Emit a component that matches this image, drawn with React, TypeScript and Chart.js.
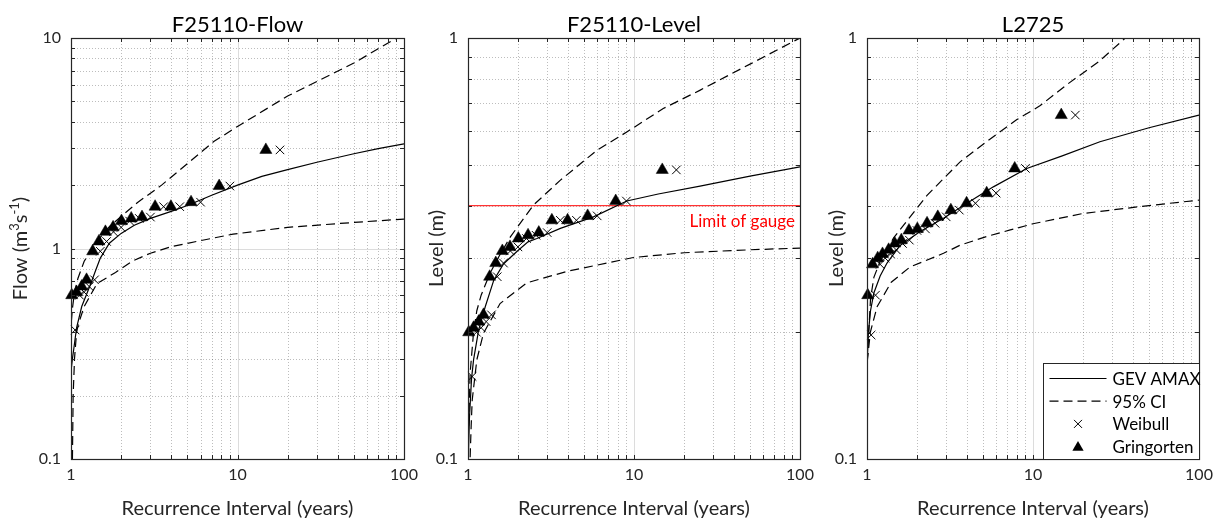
import React, { useEffect, useRef } from "react";
import { Chart, registerables } from "chart.js";

Chart.register(...registerables);

const FONT = "Lato, 'Open Sans', 'DejaVu Sans', sans-serif";
const W = 1219;
const H = 520;
const AXIS_COLOR = "#262626";
const MINOR_GRID = "rgba(38,38,38,0.30)";
const MAJOR_GRID = "rgba(38,38,38,0.16)";
const Y_AXIS_BOX = 60;
const X_AXIS_BOX = 40;

// Recurrence intervals (years) of the ranked annual maxima (rank 1..17)
const weibullRI = [18, 9, 6, 4.5, 3.6, 3, 2.571, 2.25, 2, 1.8, 1.636, 1.5, 1.385, 1.286, 1.2, 1.125, 1.059];
const gringortenRI = [14.8, 7.76, 5.26, 3.98, 3.2, 2.67, 2.3, 2.01, 1.79, 1.61, 1.47, 1.35, 1.24, 1.16, 1.08, 1.01, 0.95];

const xTicks = [1, 10, 100];

// ---- F25110-Flow ----
const flowAmax = [2.94, 1.98, 1.66, 1.58, 1.58, 1.41, 1.39, 1.35, 1.26, 1.2, 1.08, 0.97, 0.71, 0.66, 0.62, 0.6, 0.41];
const flowGevRI = [1.005, 1.02, 1.04, 1.08, 1.16, 1.3, 1.4, 1.5, 1.7, 2, 2.4, 3, 4, 5, 7, 10, 14, 20, 30, 50, 70, 100];
const flowGev = [0.27, 0.3, 0.335, 0.42, 0.53, 0.665, 0.78, 0.9, 1.06, 1.18, 1.29, 1.39, 1.5, 1.6, 1.79, 2.0, 2.2, 2.37, 2.57, 2.82, 2.98, 3.14];
const flowUpperRI = [1.005, 1.02, 1.05, 1.1, 1.2, 1.35, 1.5, 1.7, 2, 2.5, 3.5, 5, 7.2, 10, 20, 50, 100];
const flowUpper = [0.45, 0.52, 0.62, 0.72, 0.87, 1.0, 1.13, 1.27, 1.42, 1.65, 2.0, 2.53, 3.22, 3.8, 5.3, 7.6, 10.5];
const flowLowerRI = [1.02, 1.03, 1.05, 1.08, 1.11, 1.2, 1.43, 1.85, 2.33, 3, 4, 6, 9.4, 20, 50, 100];
const flowLower = [0.1, 0.2, 0.3, 0.4, 0.44, 0.53, 0.68, 0.77, 0.87, 0.95, 1.02, 1.09, 1.17, 1.26, 1.33, 1.38];
const flowYTicks = [0.1, 1, 10];

// ---- F25110-Level ----
const levelAmax = [0.486, 0.41, 0.378, 0.369, 0.369, 0.345, 0.34, 0.334, 0.319, 0.312, 0.292, 0.271, 0.22, 0.212, 0.205, 0.2, 0.157];
const levelGevRI = [1.005, 1.02, 1.05, 1.08, 1.16, 1.27, 1.43, 1.64, 1.97, 2.3, 2.6, 3.6, 5.7, 9.05, 14, 25, 50, 100];
const levelGev = [0.101, 0.125, 0.155, 0.172, 0.203, 0.23, 0.266, 0.291, 0.311, 0.328, 0.334, 0.353, 0.376, 0.41, 0.426, 0.445, 0.47, 0.494];
const levelUpperRI = [1.01, 1.03, 1.08, 1.13, 1.2, 1.35, 1.53, 1.8, 2.48, 3.59, 5.97, 9.05, 15, 24.9, 50, 100];
const levelUpper = [0.12, 0.16, 0.2, 0.225, 0.245, 0.275, 0.302, 0.337, 0.401, 0.459, 0.541, 0.598, 0.68, 0.751, 0.867, 1.0];
const levelLowerRI = [1.03, 1.045, 1.06, 1.13, 1.24, 1.56, 2.26, 3.94, 9.9, 20, 50, 100];
const levelLower = [0.101, 0.12, 0.138, 0.172, 0.199, 0.234, 0.262, 0.279, 0.301, 0.309, 0.314, 0.317];
const levelYTicks = [0.1, 1];
const gaugeLimit = 0.4;
const gaugeLabel = "Limit of gauge";

// ---- L2725 ----
const l2725Amax = [0.656, 0.49, 0.428, 0.405, 0.39, 0.376, 0.363, 0.352, 0.349, 0.331, 0.325, 0.314, 0.307, 0.3, 0.29, 0.245, 0.197];
const l2725GevRI = [1.003, 1.02, 1.05, 1.1, 1.2, 1.32, 1.45, 1.59, 2.09, 2.89, 4, 5.77, 9.17, 15, 25.3, 50, 100];
const l2725Gev = [0.17, 0.2, 0.225, 0.248, 0.272, 0.292, 0.307, 0.322, 0.347, 0.373, 0.405, 0.443, 0.49, 0.525, 0.567, 0.612, 0.656];
const l2725UpperRI = [1.003, 1.05, 1.1, 1.2, 1.446, 2.3, 3.64, 5.5, 8, 11, 16, 25, 36, 50];
const l2725Upper = [0.17, 0.24, 0.27, 0.295, 0.335, 0.423, 0.508, 0.575, 0.64, 0.69, 0.775, 0.88, 1.0, 1.1];
const l2725LowerRI = [1.003, 1.047, 1.15, 1.4, 1.82, 2.89, 3.64, 5.3, 7.3, 10, 20, 50, 100];
const l2725Lower = [0.17, 0.2, 0.23, 0.263, 0.286, 0.308, 0.322, 0.338, 0.35, 0.362, 0.383, 0.4, 0.412];
const l2725YTicks = [0.1, 1];

const legendLabels = ["GEV AMAX", "95% CI", "Weibull", "Gringorten"];
const xTitle = "Recurrence Interval (years)";

type Seg = { t: string; sup?: boolean };
interface Panel {
  title: string;
  yTitle: Seg[];
  yTitleX: number;
  area: { left: number; right: number; top: number; bottom: number };
  yTicks: number[];
  amax: number[];
  gevRI: number[];
  gev: number[];
  upRI: number[];
  up: number[];
  loRI: number[];
  lo: number[];
  gauge?: number;
  legend?: boolean;
}

const panels: Panel[] = [
  {
    title: "F25110-Flow",
    yTitle: [{ t: "Flow (m" }, { t: "3", sup: true }, { t: "s" }, { t: "-1", sup: true }, { t: ")" }],
    yTitleX: 27,
    area: { left: 71, right: 404, top: 38, bottom: 459 },
    yTicks: flowYTicks,
    amax: flowAmax,
    gevRI: flowGevRI,
    gev: flowGev,
    upRI: flowUpperRI,
    up: flowUpper,
    loRI: flowLowerRI,
    lo: flowLower,
  },
  {
    title: "F25110-Level",
    yTitle: [{ t: "Level (m)" }],
    yTitleX: 443,
    area: { left: 468, right: 800, top: 38, bottom: 459 },
    yTicks: levelYTicks,
    amax: levelAmax,
    gevRI: levelGevRI,
    gev: levelGev,
    upRI: levelUpperRI,
    up: levelUpper,
    loRI: levelLowerRI,
    lo: levelLower,
    gauge: gaugeLimit,
  },
  {
    title: "L2725",
    yTitle: [{ t: "Level (m)" }],
    yTitleX: 843,
    area: { left: 867, right: 1199, top: 38, bottom: 459 },
    yTicks: l2725YTicks,
    amax: l2725Amax,
    gevRI: l2725GevRI,
    gev: l2725Gev,
    upRI: l2725UpperRI,
    up: l2725Upper,
    loRI: l2725LowerRI,
    lo: l2725Lower,
    legend: true,
  },
];

function logSteps(min: number, max: number) {
  const minor: number[] = [];
  const major: number[] = [];
  const e0 = Math.floor(Math.log10(min) + 1e-9);
  const e1 = Math.ceil(Math.log10(max) - 1e-9);
  for (let e = e0; e <= e1; e++) {
    const base = Math.pow(10, e);
    for (let k = 1; k <= 9; k++) {
      const v = k * base;
      if (v < min * (1 - 1e-9) || v > max * (1 + 1e-9)) continue;
      (k === 1 ? major : minor).push(v);
    }
  }
  return { minor, major };
}

const crisp = (v: number) => Math.round(v) + 0.5;

function drawTriangle(ctx: CanvasRenderingContext2D, x: number, y: number, r: number) {
  let rad = 0;
  ctx.beginPath();
  ctx.moveTo(x + Math.sin(rad) * r, y - Math.cos(rad) * r);
  rad += (2 * Math.PI) / 3;
  ctx.lineTo(x + Math.sin(rad) * r, y - Math.cos(rad) * r);
  rad += (2 * Math.PI) / 3;
  ctx.lineTo(x + Math.sin(rad) * r, y - Math.cos(rad) * r);
  ctx.closePath();
  ctx.fill();
}

function makeDecor(p: Panel) {
  const yMin = p.yTicks[0];
  const yMax = p.yTicks[p.yTicks.length - 1];
  return {
    id: "decor",
    beforeDatasetsDraw(chart: any) {
      const { ctx, chartArea: a } = chart;
      const xs = chart.scales.x;
      const ys = chart.scales.y;
      const X = logSteps(1, 100);
      const Y = logSteps(yMin, yMax);
      ctx.save();
      ctx.lineWidth = 1;
      ctx.strokeStyle = MINOR_GRID;
      ctx.setLineDash([1, 2]);
      ctx.beginPath();
      for (const v of X.minor) {
        const x = crisp(xs.getPixelForValue(v));
        ctx.moveTo(x, a.top);
        ctx.lineTo(x, a.bottom);
      }
      for (const v of Y.minor) {
        const y = crisp(ys.getPixelForValue(v));
        ctx.moveTo(a.left, y);
        ctx.lineTo(a.right, y);
      }
      ctx.stroke();
      ctx.setLineDash([]);
      ctx.strokeStyle = MAJOR_GRID;
      ctx.beginPath();
      for (const v of X.major) {
        if (v <= 1.0001 || v >= 99.99) continue;
        const x = crisp(xs.getPixelForValue(v));
        ctx.moveTo(x, a.top);
        ctx.lineTo(x, a.bottom);
      }
      for (const v of Y.major) {
        if (v <= yMin * 1.0001 || v >= yMax * 0.9999) continue;
        const y = crisp(ys.getPixelForValue(v));
        ctx.moveTo(a.left, y);
        ctx.lineTo(a.right, y);
      }
      ctx.stroke();
      ctx.restore();
    },
    afterDatasetsDraw(chart: any) {
      const { ctx, chartArea: a } = chart;
      const xs = chart.scales.x;
      const ys = chart.scales.y;
      const X = logSteps(1, 100);
      const Y = logSteps(yMin, yMax);
      ctx.save();
      // gauge label
      if (p.gauge !== undefined) {
        ctx.fillStyle = "#ff0000";
        ctx.font = `17px ${FONT}`;
        ctx.textAlign = "right";
        ctx.textBaseline = "alphabetic";
        ctx.fillText(gaugeLabel, a.right - 5, ys.getPixelForValue(p.gauge) + 21);
      }
      // ticks (inside, all four sides)
      const tl = 4;
      ctx.strokeStyle = AXIS_COLOR;
      ctx.lineWidth = 1;
      ctx.beginPath();
      for (const v of [...X.major, ...X.minor]) {
        const x = crisp(xs.getPixelForValue(v));
        ctx.moveTo(x, a.bottom);
        ctx.lineTo(x, a.bottom - tl);
        ctx.moveTo(x, a.top);
        ctx.lineTo(x, a.top + tl);
      }
      for (const v of [...Y.major, ...Y.minor]) {
        const y = crisp(ys.getPixelForValue(v));
        ctx.moveTo(a.left, y);
        ctx.lineTo(a.left + tl, y);
        ctx.moveTo(a.right, y);
        ctx.lineTo(a.right - tl, y);
      }
      ctx.stroke();
      // box
      ctx.lineWidth = 1.2;
      ctx.strokeRect(crisp(a.left), crisp(a.top), Math.round(a.right - a.left), Math.round(a.bottom - a.top));

      // legend
      if (p.legend) {
        const lw = 156;
        const lh = 96;
        const bx = crisp(a.right - lw);
        const by = crisp(a.bottom - lh);
        ctx.fillStyle = "#ffffff";
        ctx.fillRect(bx, by, crisp(a.right) - bx, crisp(a.bottom) - by);
        ctx.strokeStyle = AXIS_COLOR;
        ctx.lineWidth = 1;
        ctx.strokeRect(bx, by, crisp(a.right) - bx, crisp(a.bottom) - by);
        const x0 = bx + 6;
        const x1 = bx + 63;
        const xm = (x0 + x1) / 2;
        const tx = bx + 69;
        legendLabels.forEach((label, i) => {
          const y = by + 15 + i * 22.7;
          ctx.strokeStyle = "#000";
          ctx.fillStyle = "#000";
          if (i < 2) {
            ctx.lineWidth = 1.2;
            ctx.setLineDash(i === 1 ? [9, 5] : []);
            ctx.beginPath();
            ctx.moveTo(x0, y);
            ctx.lineTo(x1, y);
            ctx.stroke();
            ctx.setLineDash([]);
          } else if (i === 2) {
            const o = 4;
            ctx.lineWidth = 1;
            ctx.beginPath();
            ctx.moveTo(xm - o, y - o);
            ctx.lineTo(xm + o, y + o);
            ctx.moveTo(xm + o, y - o);
            ctx.lineTo(xm - o, y + o);
            ctx.stroke();
          } else {
            drawTriangle(ctx, xm, y + 1, 6.5);
          }
          ctx.fillStyle = "#000";
          ctx.font = `17px ${FONT}`;
          ctx.textAlign = "left";
          ctx.textBaseline = "middle";
          ctx.fillText(label, tx, y + 1);
        });
      }
      ctx.restore();
    },
    afterDraw(chart: any) {
      const { ctx, chartArea: a } = chart;
      ctx.save();
      const cx = (a.left + a.right) / 2;
      const cy = (a.top + a.bottom) / 2;
      // title
      ctx.fillStyle = "#000";
      ctx.font = `22px ${FONT}`;
      ctx.textAlign = "center";
      ctx.textBaseline = "alphabetic";
      ctx.fillText(p.title, cx, 31.5);
      // x title
      ctx.fillStyle = AXIS_COLOR;
      ctx.font = `20px ${FONT}`;
      ctx.fillText(xTitle, cx, 515);
      // y title (rotated, with superscripts)
      const big = `20px ${FONT}`;
      const small = `13px ${FONT}`;
      let total = 0;
      for (const s of p.yTitle) {
        ctx.font = s.sup ? small : big;
        total += ctx.measureText(s.t).width;
      }
      ctx.translate(p.yTitleX, cy);
      ctx.rotate(-Math.PI / 2);
      ctx.textAlign = "left";
      let x = -total / 2;
      for (const s of p.yTitle) {
        ctx.font = s.sup ? small : big;
        ctx.fillText(s.t, x, s.sup ? -8 : 0);
        x += ctx.measureText(s.t).width;
      }
      ctx.restore();
    },
  };
}

function points(xv: number[], yv: number[]) {
  return xv.map((x, i) => ({ x, y: yv[i] }));
}

function markerPoints(xv: number[], yv: number[], yMin: number, yMax: number) {
  return points(xv, yv).filter((pt) => pt.x >= 1 && pt.x <= 100 && pt.y >= yMin && pt.y <= yMax);
}

function buildConfig(p: Panel): any {
  const yMin = p.yTicks[0];
  const yMax = p.yTicks[p.yTicks.length - 1];
  const lineBase = { showLine: true, pointRadius: 0, borderColor: "#000", borderWidth: 1.2, clip: 0, fill: false };
  const datasets: any[] = [
    {
      label: "Gringorten",
      data: markerPoints(gringortenRI, p.amax, yMin, yMax),
      pointStyle: "triangle",
      pointRadius: 7,
      backgroundColor: "#000",
      borderColor: "#000",
      borderWidth: 0.5,
      showLine: false,
      clip: false,
    },
    {
      label: "Weibull",
      data: markerPoints(weibullRI, p.amax, yMin, yMax),
      pointStyle: "crossRot",
      pointRadius: 6,
      borderColor: "#000",
      borderWidth: 1,
      showLine: false,
      clip: false,
    },
    { ...lineBase, label: "GEV AMAX", data: points(p.gevRI, p.gev) },
    { ...lineBase, label: "95% CI upper", data: points(p.upRI, p.up), borderDash: [9, 5] },
    { ...lineBase, label: "95% CI lower", data: points(p.loRI, p.lo), borderDash: [9, 5] },
  ];
  if (p.gauge !== undefined) {
    datasets.push({
      ...lineBase,
      label: "Limit of gauge",
      data: [
        { x: xTicks[0], y: p.gauge },
        { x: xTicks[xTicks.length - 1], y: p.gauge },
      ],
      borderColor: "rgba(255,0,0,0.8)",
      borderWidth: 1.2,
    });
  }
  return {
    type: "scatter",
    data: { datasets },
    options: {
      animation: false,
      responsive: false,
      maintainAspectRatio: false,
      devicePixelRatio: 1,
      events: [],
      layout: {
        padding: {
          left: p.area.left - Y_AXIS_BOX,
          right: W - p.area.right,
          top: p.area.top,
          bottom: H - p.area.bottom - X_AXIS_BOX,
        },
      },
      plugins: { legend: { display: false }, tooltip: { enabled: false }, title: { display: false } },
      scales: {
        x: {
          type: "logarithmic",
          min: xTicks[0],
          max: xTicks[xTicks.length - 1],
          afterFit: (s: any) => {
            s.height = X_AXIS_BOX;
          },
          afterBuildTicks: (s: any) => {
            s.ticks = xTicks.map((v) => ({ value: v }));
          },
          ticks: {
            callback: (v: any) => String(v),
            font: { family: FONT, size: 16 },
            color: AXIS_COLOR,
            padding: 6,
            maxRotation: 0,
            autoSkip: false,
          },
          grid: { display: false, drawTicks: false },
          border: { display: false },
        },
        y: {
          type: "logarithmic",
          min: yMin,
          max: yMax,
          afterFit: (s: any) => {
            s.width = Y_AXIS_BOX;
          },
          afterBuildTicks: (s: any) => {
            s.ticks = p.yTicks.map((v) => ({ value: v }));
          },
          ticks: {
            callback: (v: any) => String(v),
            font: { family: FONT, size: 16 },
            color: AXIS_COLOR,
            padding: 10,
            autoSkip: false,
          },
          grid: { display: false, drawTicks: false },
          border: { display: false },
        },
      },
    },
    plugins: [makeDecor(p)],
  };
}

function PanelChart({ panel }: { panel: Panel }) {
  const ref = useRef<HTMLCanvasElement | null>(null);
  useEffect(() => {
    if (!ref.current) return;
    const chart = new Chart(ref.current, buildConfig(panel));
    return () => chart.destroy();
  }, [panel]);
  return (
    <canvas
      ref={ref}
      width={W}
      height={H}
      style={{ position: "absolute", left: 0, top: 0, width: W, height: H }}
    />
  );
}

export default function App() {
  useEffect(() => {
    document.body.style.margin = "0";
  }, []);
  return (
    <div style={{ position: "fixed", left: 0, top: 0, width: W, height: H, background: "#fff" }}>
      {panels.map((p) => (
        <PanelChart key={p.title} panel={p} />
      ))}
    </div>
  );
}
